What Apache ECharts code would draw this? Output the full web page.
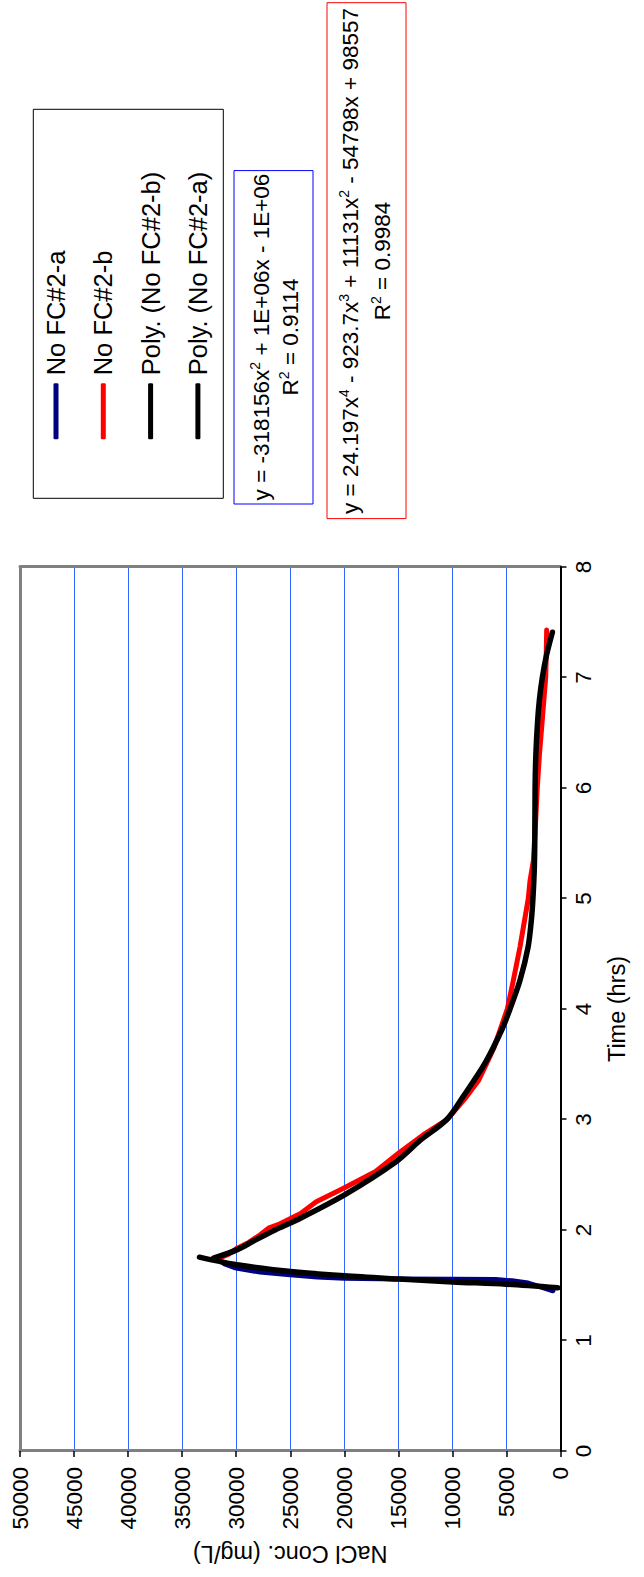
<!DOCTYPE html>
<html>
<head>
<meta charset="utf-8">
<script src="https://cdn.jsdelivr.net/npm/echarts@6/dist/echarts.min.js"></script>
<style>
html,body{margin:0;padding:0;background:#fff;width:644px;height:1577px;overflow:hidden;}
#chart{position:absolute;left:0;top:0;width:1577px;height:644px;transform-origin:0 0;transform:translate(0,1577px) rotate(-90deg);background:#fff;}
</style>
</head>
<body>
<div id="chart"></div>
<script>
// ---- data (time in hrs, NaCl conc. in mg/L) ----
const seriesNames = ['No FC#2-a', 'No FC#2-b', 'Poly. (No FC#2-b)', 'Poly. (No FC#2-a)'];
const timeTicks = [0, 1, 2, 3, 4, 5, 6, 7, 8];
const concTicks = [0, 5000, 10000, 15000, 20000, 25000, 30000, 35000, 40000, 45000, 50000];

const aTime = [1.45, 1.48, 1.52, 1.54, 1.553, 1.555, 1.557, 1.564, 1.575, 1.594, 1.62, 1.655, 1.69, 1.72, 1.74];
const aConc = [700, 1700, 3000, 4500, 6000, 10000, 15000, 20000, 22500, 25000, 27800, 30000, 31000, 31500, 31800];

const bTime = [1.736, 1.78, 1.836, 1.89, 1.957, 2.02, 2.056, 2.15, 2.255, 2.38, 2.53, 2.70, 2.86, 3.00, 3.10, 3.21, 3.35, 3.51, 3.65, 3.81, 4.00, 4.26, 4.56, 5.00, 5.16, 5.35, 5.70, 6.00, 6.30, 6.60, 7.00, 7.20, 7.43];
const bConc = [31790, 30700, 29900, 28800, 27780, 26950, 25940, 24040, 22600, 20020, 17100, 14930, 12710, 10500, 9600, 8670, 7600, 6820, 6150, 5590, 4920, 4360, 3750, 2980, 2820, 2500, 2300, 2150, 1950, 1700, 1370, 1320, 1280];

const fitBTime = [1.745, 1.82, 1.90, 2.00, 2.09, 2.32, 2.62, 2.81, 3.00, 3.21, 3.51, 3.81, 4.00, 4.26, 4.56, 4.80, 5.00, 5.25, 5.50, 6.00, 6.30, 6.60, 6.80, 7.00, 7.20, 7.41];
const fitBConc = [32100, 29940, 28400, 26400, 24390, 19940, 15180, 12990, 10520, 8990, 6980, 5440, 4670, 3745, 3000, 2700, 2550, 2430, 2380, 2350, 2280, 2120, 1950, 1680, 1300, 750];

const fitATime = [1.477, 1.51, 1.53, 1.556, 1.585, 1.624, 1.685, 1.754];
const fitAConc = [250, 5040, 9970, 14900, 19990, 24945, 29940, 33395];

const eqA = ['y = -318156x{s|2} + 1E+06x - 1E+06', 'R{s|2} = 0.9114'];
const eqB = ['y = 24.197x{s|4} - 923.7x{s|3} + 11131x{s|2} - 54798x + 98557', 'R{s|2} = 0.9984'];

// ---- chart ----
const FONT = '"Liberation Sans", Arial, Helvetica, sans-serif';
const zip = (t, c) => t.map((v, i) => [v, c[i]]);

const chart = echarts.init(document.getElementById('chart'), null, {renderer: 'svg', width: 1577, height: 644});

function lineSeries(name, t, c, color, width, z, smooth) {
  return {
    name: name, type: 'line', data: zip(t, c), symbol: 'none', z: z,
    smooth: smooth ? 0.3 : false,
    itemStyle: {color: color},
    lineStyle: {color: color, width: width, cap: 'round', join: 'round'},
    emphasis: {disabled: true}
  };
}

const eqRich = {s: {fontSize: 14, fontFamily: FONT, fill: '#000', verticalAlign: 'top', lineHeight: 26}};
function eqText(text, x, y) {
  return {
    type: 'text', x: x, y: y, z: 100,
    style: {text: text, fill: '#000', fontSize: 22.5, fontFamily: FONT, align: 'center', verticalAlign: 'middle', lineHeight: 26, rich: eqRich}
  };
}

const option = {
  animation: false,
  backgroundColor: '#fff',
  textStyle: {fontFamily: FONT},
  grid: {left: 126, right: 567, top: 20, bottom: 83.5, containLabel: false},
  xAxis: [
    {
      type: 'value', min: timeTicks[0], max: timeTicks[timeTicks.length - 1], interval: timeTicks[1] - timeTicks[0],
      position: 'bottom',
      axisLine: {show: true, onZero: false, lineStyle: {color: '#000', width: 2}},
      axisTick: {show: true, inside: false, length: 6, lineStyle: {color: '#000', width: 1.5}},
      axisLabel: {fontSize: 22.5, color: '#000', margin: 11, fontFamily: FONT, formatter: v => String(v)},
      splitLine: {show: false},
      name: 'Time (hrs)', nameLocation: 'middle', nameGap: 44,
      nameTextStyle: {fontSize: 23.5, color: '#000', fontFamily: FONT}
    },
    {
      type: 'value', min: timeTicks[0], max: timeTicks[timeTicks.length - 1], position: 'top',
      axisLine: {show: true, onZero: false, lineStyle: {color: '#808080', width: 3}},
      axisTick: {show: false}, axisLabel: {show: false}, splitLine: {show: false}
    }
  ],
  yAxis: [
    {
      type: 'value', min: concTicks[0], max: concTicks[concTicks.length - 1], interval: concTicks[1] - concTicks[0],
      position: 'left',
      axisLine: {show: true, onZero: false, lineStyle: {color: '#808080', width: 3}},
      axisTick: {show: true, inside: false, length: 6, lineStyle: {color: '#000', width: 1.5}},
      axisLabel: {fontSize: 22.5, color: '#000', margin: 16, fontFamily: FONT, formatter: v => String(v)},
      splitLine: {show: true, lineStyle: {color: '#3366ff', width: 1}},
      name: 'NaCl Conc. (mg/L)', nameLocation: 'middle', nameGap: 91, nameRotate: 90,
      nameTextStyle: {fontSize: 23.5, color: '#000', fontFamily: FONT}
    },
    {
      type: 'value', min: concTicks[0], max: concTicks[concTicks.length - 1], position: 'right',
      axisLine: {show: true, onZero: false, lineStyle: {color: '#808080', width: 3}},
      axisTick: {show: false}, axisLabel: {show: false}, splitLine: {show: false}
    }
  ],
  legend: {
    orient: 'vertical', left: 1137.7, top: 41, padding: 0,
    itemWidth: 56, itemHeight: 5, itemGap: 17.3, icon: 'roundRect',
    selectedMode: false,
    textStyle: {fontSize: 25.5, color: '#000', fontFamily: FONT, lineHeight: 30, padding: [0, 0, 0, 3]},
    data: seriesNames
  },
  series: [
    lineSeries(seriesNames[0], aTime, aConc, '#000080', 5, 2, false),
    lineSeries(seriesNames[1], bTime, bConc, '#ff0000', 5, 3, false),
    lineSeries(seriesNames[2], fitBTime, fitBConc, '#000000', 5.5, 4, true),
    lineSeries(seriesNames[3], fitATime, fitAConc, '#000000', 5.5, 5, true)
  ],
  graphic: [
    {type: 'rect', z: 50, shape: {x: 1078.7, y: 33.3, width: 389, height: 190}, style: {fill: 'none', stroke: '#000', lineWidth: 1}},
    {type: 'rect', z: 50, shape: {x: 1073, y: 234, width: 333.4, height: 79}, style: {fill: '#fff', stroke: '#0000ff', lineWidth: 1}},
    {type: 'rect', z: 50, shape: {x: 1058.4, y: 327, width: 515.9, height: 79}, style: {fill: '#fff', stroke: '#ff0000', lineWidth: 1}},
    eqText(eqA[0], 1240, 261),
    eqText(eqA[1], 1240, 290),
    eqText(eqB[0], 1316, 350),
    eqText(eqB[1], 1316, 382)
  ]
};
chart.setOption(option);
</script>
</body>
</html>
